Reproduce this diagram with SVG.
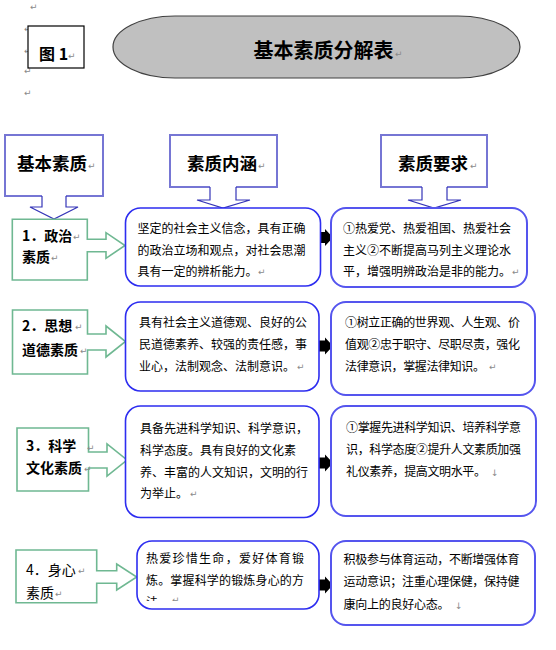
<svg xmlns="http://www.w3.org/2000/svg" width="556" height="650" viewBox="0 0 556 650">
<style>
text{font-family:"Noto Sans CJK SC","Noto Sans",sans-serif;fill:#000}
.rm{font-family:"DejaVu Sans",sans-serif;font-size:9px;fill:#8a8a8a}
.hd{font-size:17.5px;font-weight:bold}
.gb{font-size:14px;font-weight:bold}
.gr{font-size:14px}
.t{font-size:12px}
.green{fill:#fff;stroke:#6fb892;stroke-width:1.6}
.mid{fill:#fff;stroke:#2d2df0;stroke-width:1.6}
.rgt{fill:#fff;stroke:#5555ee;stroke-width:2}
.hbox{fill:none;stroke:#7676d4;stroke-width:2}
.harr{fill:none;stroke:#3535b8;stroke-width:1.2}
.blk{fill:#000}
</style>
<defs>
<clipPath id="c4"><rect x="138" y="545" width="178" height="56"/></clipPath>
</defs>
<rect width="556" height="650" fill="#fff"/>

<g id="margin-marks">
<text class="rm" x="30" y="10">↵</text>
<text class="rm" x="24" y="32">↵</text>
<text class="rm" x="24" y="54">↵</text>
<text class="rm" x="24" y="74">↵</text>
<text class="rm" x="24" y="96">↵</text>
</g>

<g id="fig-label">
<rect x="28" y="26" width="56" height="42" fill="#fff" stroke="#000" stroke-width="1.2"/>
<text x="39" y="60" font-size="16" font-weight="bold">图 1</text>
<text class="rm" x="68" y="59">↵</text>
</g>

<g id="title">
<rect x="113" y="16" width="407" height="62" rx="62" ry="31" fill="#c0c0c0" stroke="#404040" stroke-width="1.2"/>
<text x="323.5" y="58" font-size="20" font-weight="bold" text-anchor="middle">基本素质分解表</text>
<text class="rm" x="395" y="57">↵</text>
</g>

<g id="hdr-basic">
<path class="hbox" d="M42,196 H5 V135 H103 V196 H66"/>
<path class="harr" d="M42,196 V207 H30 L54,219 L78,207 H66 V196"/>
<text class="hd" x="17" y="170">基本素质</text>
<text class="rm" x="88" y="169">↵</text>
</g>

<g id="hdr-content">
<path class="hbox" d="M210,187 H170 V135 H277 V187 H236"/>
<path class="harr" d="M210,187 V200 H197 L223,208 L250,200 H236 V187"/>
<text class="hd" x="187" y="170">素质内涵</text>
<text class="rm" x="258" y="169">↵</text>
</g>

<g id="hdr-req">
<path class="hbox" d="M422,187 H381 V135 H487 V187 H447"/>
<path class="harr" d="M422,187 V200 H408 L434,208 L461,200 H447 V187"/>
<text class="hd" x="398" y="170">素质要求</text>
<text class="rm" x="470" y="169">↵</text>
</g>

<g id="connectors">
<path class="blk" d="M314,232 H325 V229 L333,237.5 L325,246 V243 H314 Z"/>
<path class="blk" d="M314,340.5 H325 V337.5 L333,346 L325,354.5 V351.5 H314 Z"/>
<path class="blk" d="M314,457.5 H325 V454.5 L333,463 L325,471.5 V468.5 H314 Z"/>
<path class="blk" d="M314,579.5 H325 V576.5 L333,585 L325,593.5 V590.5 H314 Z"/>
</g>

<g id="row1-quality">
<path class="green" d="M12.3,219.3 H87.3 V239.3 H106 V232.7 L125,245.5 L106,258.3 V251.7 H87.3 V280 H12.3 Z"/>
<text class="gb" x="22" y="241">1．政治</text>
<text class="rm" x="73" y="240">↵</text>
<text class="gb" x="22" y="262">素质</text>
<text class="rm" x="51" y="261">↵</text>
</g>
<g id="row1-content">
<rect class="mid" x="125.5" y="208" width="195" height="78" rx="15"/>
<text class="t" x="137.5" y="233">坚定的社会主义信念，具有正确</text>
<text class="t" x="137.5" y="254.5">的政治立场和观点，对社会思潮</text>
<text class="t" x="137.5" y="276">具有一定的辨析能力。</text>
<text class="rm" x="258" y="275">↵</text>
</g>
<g id="row1-req">
<rect class="rgt" x="331" y="208" width="196" height="79" rx="15"/>
<text class="t" x="343" y="233">①热爱党、热爱祖国、热爱社会</text>
<text class="t" x="343" y="254.5">主义②不断提高马列主义理论水</text>
<text class="t" x="343" y="276">平，增强明辨政治是非的能力。</text>
<text class="rm" x="512" y="275">↵</text>
</g>

<g id="row2-quality">
<path class="green" d="M12.5,310 H87.5 V334 H106 V326 L125.5,341.5 L106,357 V350 H87.5 V374 H12.5 Z"/>
<text class="gb" x="22" y="331">2．思想</text>
<text class="rm" x="75" y="330">↵</text>
<text class="gb" x="22" y="355">道德素质</text>
<text class="rm" x="80" y="354">↵</text>
</g>
<g id="row2-content">
<rect class="mid" x="125.5" y="302" width="193.5" height="89" rx="15"/>
<text class="t" x="139" y="326.5">具有社会主义道德观、良好的公</text>
<text class="t" x="139" y="348.5">民道德素养、较强的责任感，事</text>
<text class="t" x="139" y="370.5">业心，法制观念、法制意识。</text>
<text class="rm" x="297" y="370">↵</text>
</g>
<g id="row2-req">
<rect class="rgt" x="331" y="302" width="204" height="93" rx="15"/>
<text class="t" x="345" y="326.5" textLength="175">①树立正确的世界观、人生观、价</text>
<text class="t" x="345" y="348.5" textLength="175">值观②忠于职守、尽职尽责，强化</text>
<text class="t" x="345" y="370.5" textLength="140">法律意识，掌握法律知识。</text>
<text class="rm" x="489" y="370">↵</text>
</g>

<g id="row3-quality">
<path class="green" d="M17,428 H88.5 V452 H107 V444 L127,460 L107,476 V468 H88.5 V491 H17 Z"/>
<text class="gb" x="26" y="451">3．科学</text>
<text class="rm" x="87" y="451">↵</text>
<text class="gb" x="26" y="473">文化素质</text>
<text class="rm" x="84" y="472">↵</text>
</g>
<g id="row3-content">
<rect class="mid" x="125.5" y="406" width="193.5" height="111.5" rx="15"/>
<text class="t" x="140" y="432.5">具备先进科学知识、科学意识，</text>
<text class="t" x="140" y="455">科学态度。具有良好的文化素</text>
<text class="t" x="140" y="476.5">养、丰富的人文知识，文明的行</text>
<text class="t" x="140" y="498">为举止。</text>
<text class="rm" x="190" y="497">↵</text>
</g>
<g id="row3-req">
<rect class="rgt" x="331" y="406" width="205" height="110" rx="15"/>
<text class="t" x="346" y="432" textLength="175">①掌握先进科学知识、培养科学意</text>
<text class="t" x="346" y="454" textLength="175">识，科学态度②提升人文素质加强</text>
<text class="t" x="346" y="476" textLength="140">礼仪素养，提高文明水平。</text>
<text class="rm" x="491" y="476" font-size="6">↓</text>
</g>

<g id="row4-quality">
<path class="green" d="M16,550 H96.7 V570.7 H116.7 V564 L136.7,577 L116.7,590 V583.3 H96.7 V602.7 H16 Z"/>
<text class="gr" x="26" y="575">4．身心</text>
<text class="rm" x="78" y="574">↵</text>
<text class="gr" x="26" y="598">素质</text>
<text class="rm" x="55" y="597">↵</text>
</g>
<g id="row4-content">
<rect class="mid" x="137" y="541" width="182" height="68" rx="15"/>
<g clip-path="url(#c4)">
<text class="t" x="146" y="563" font-size="13" textLength="158">热爱珍惜生命，爱好体育锻</text>
<text class="t" x="146" y="585" font-size="13" textLength="158">炼。掌握科学的锻炼身心的方</text>
<text class="t" x="146" y="607" font-size="13">法。</text>
<text class="rm" x="172" y="603">↵</text>
</g>
</g>
<g id="row4-req">
<rect class="rgt" x="331" y="541" width="204" height="84" rx="15"/>
<text class="t" x="343.5" y="564" textLength="176">积极参与体育运动，不断增强体育</text>
<text class="t" x="343.5" y="586" textLength="176">运动意识；注重心理保健，保持健</text>
<text class="t" x="343.5" y="609" textLength="106">康向上的良好心态。</text>
<text class="rm" x="455" y="609" font-size="6">↓</text>
</g>
</svg>
